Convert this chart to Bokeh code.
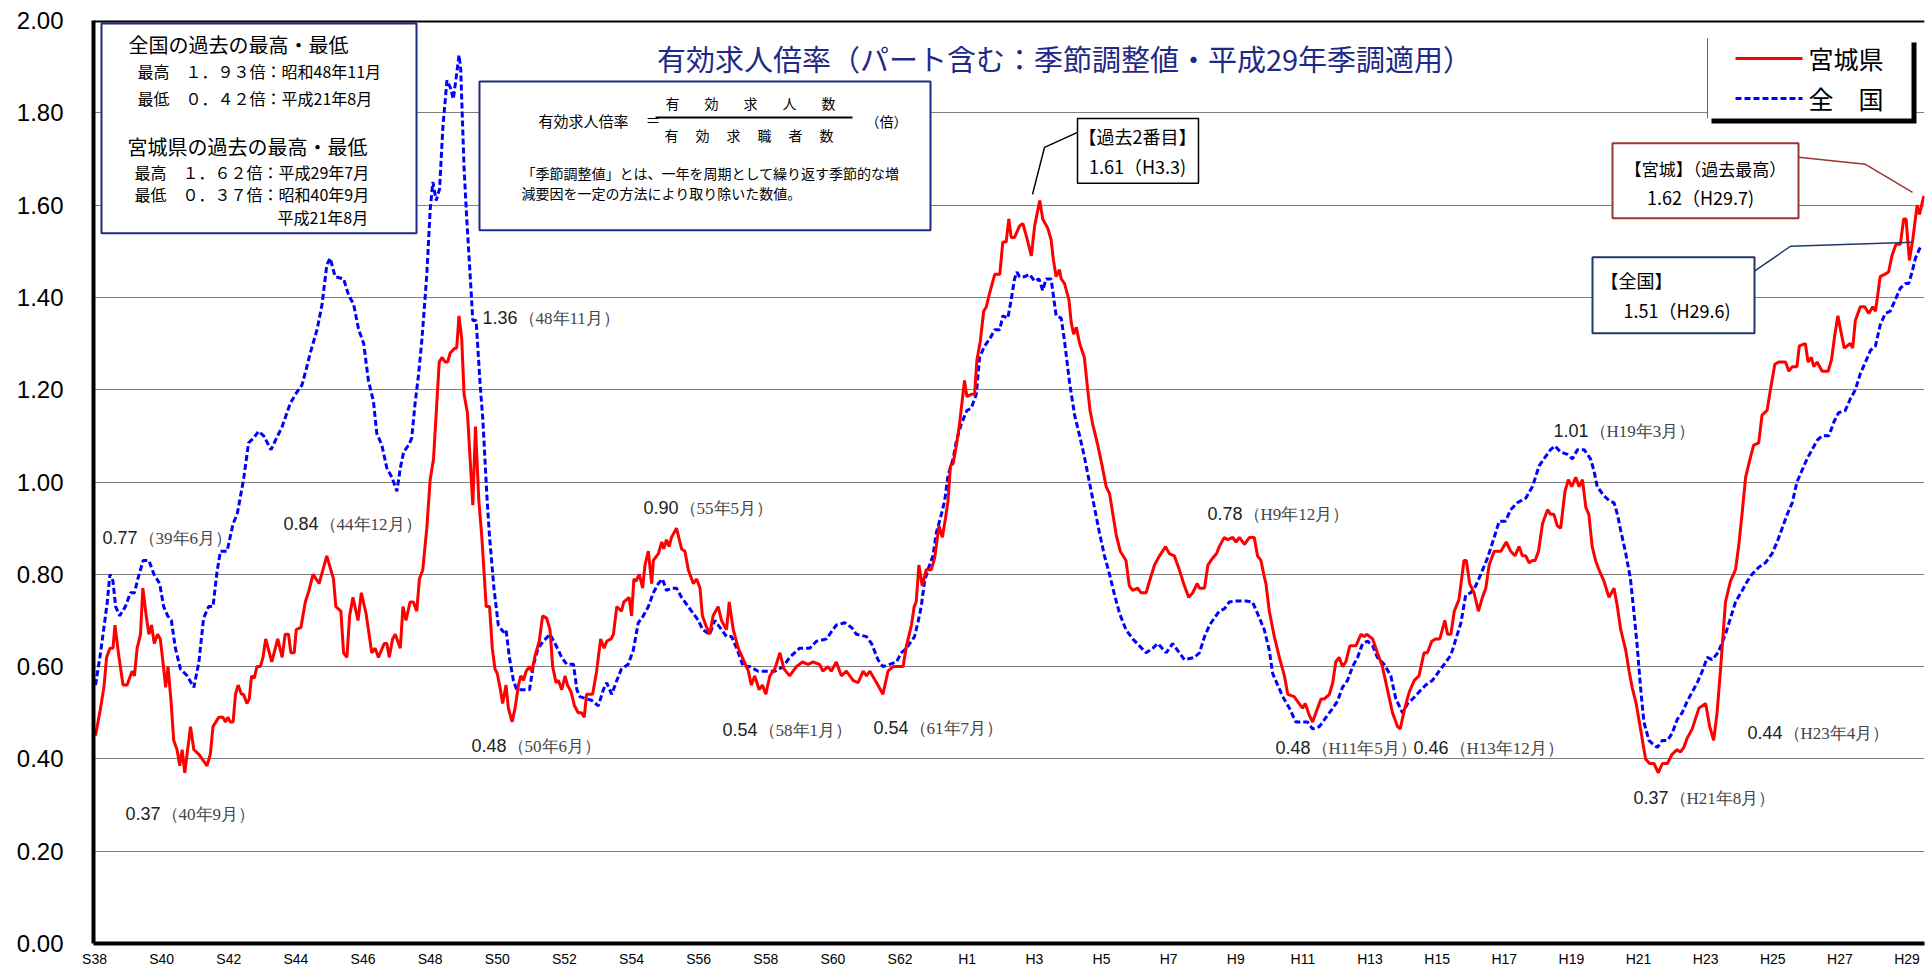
from bokeh.plotting import figure
from bokeh.models import Range1d, FixedTicker, PrintfTickFormatter, Span
from bokeh.core.properties import value
from bokeh.embed import file_html
from bokeh.resources import INLINE

# ---------------- data (decimal year, ratio) ----------------
miyagi_t = [1963.03,1963.18,1963.28,1963.36,1963.46,1963.55,1963.61,1963.72,1963.85,1963.97,
 1964.12,1964.19,1964.27,1964.37,1964.44,1964.54,1964.62,1964.70,1964.78,1964.88,1964.96,
 1965.04,1965.12,1965.19,1965.28,1965.36,1965.46,1965.54,1965.61,1965.69,1965.86,1965.96,
 1966.11,1966.35,1966.45,1966.53,1966.70,1966.83,1966.90,1966.97,1967.05,1967.13,1967.20,
 1967.28,1967.38,1967.44,1967.54,1967.61,1967.68,1967.76,1967.84,1967.94,1968.02,1968.10,
 1968.28,1968.46,1968.59,1968.68,1968.78,1968.85,1968.95,1969.01,1969.15,1969.28,1969.39,
 1969.51,1969.69,1969.92,1970.12,1970.19,1970.34,1970.42,1970.52,1970.60,1970.70,1970.85,
 1970.95,1971.09,1971.26,1971.36,1971.46,1971.63,1971.71,1971.78,1971.88,1971.96,1972.11,
 1972.19,1972.28,1972.40,1972.50,1972.60,1972.68,1972.78,1972.90,1973.00,1973.10,1973.27,
 1973.35,1973.45,1973.52,1973.60,1973.74,1973.79,1973.86,1973.94,1974.01,1974.11,1974.19,
 1974.27,1974.35,1974.45,1974.54,1974.67,1974.77,1974.85,1974.93,1975.00,1975.08,1975.16,
 1975.26,1975.33,1975.44,1975.53,1975.63,1975.70,1975.78,1975.86,1975.96,1976.03,1976.13,
 1976.25,1976.35,1976.47,1976.57,1976.65,1976.75,1976.82,1976.92,1977.02,1977.09,1977.20,
 1977.30,1977.41,1977.51,1977.59,1977.66,1977.84,1977.96,1978.01,1978.08,1978.18,1978.26,
 1978.39,1978.46,1978.56,1978.70,1978.77,1978.93,1979.00,1979.07,1979.13,1979.23,1979.33,
 1979.40,1979.50,1979.60,1979.65,1979.80,1979.90,1979.96,1980.04,1980.12,1980.19,1980.34,
 1980.49,1980.59,1980.69,1980.84,1980.94,1981.04,1981.11,1981.21,1981.33,1981.43,1981.58,
 1981.68,1981.83,1981.91,1982.03,1982.18,1982.33,1982.48,1982.57,1982.67,1982.80,1982.90,
 1983.00,1983.12,1983.27,1983.42,1983.54,1983.71,1983.91,1984.09,1984.26,1984.41,1984.60,
 1984.70,1984.85,1984.95,1985.10,1985.25,1985.40,1985.60,1985.75,1985.90,1986.00,1986.10,
 1986.30,1986.49,1986.64,1986.79,1986.94,1987.09,1987.19,1987.34,1987.42,1987.48,1987.56,
 1987.66,1987.78,1987.93,1988.03,1988.16,1988.26,1988.35,1988.43,1988.50,1988.58,1988.68,
 1988.77,1988.92,1988.99,1989.12,1989.22,1989.29,1989.39,1989.49,1989.57,1989.67,1989.82,
 1989.97,1990.06,1990.16,1990.24,1990.31,1990.41,1990.56,1990.66,1990.79,1990.91,1991.01,
 1991.16,1991.25,1991.40,1991.50,1991.57,1991.65,1991.75,1991.80,1991.90,1992.03,1992.10,
 1992.17,1992.25,1992.35,1992.49,1992.59,1992.66,1992.74,1992.89,1993.02,1993.14,1993.24,
 1993.34,1993.44,1993.56,1993.73,1993.83,1993.93,1994.08,1994.18,1994.33,1994.43,1994.58,
 1994.73,1994.91,1995.02,1995.17,1995.32,1995.47,1995.60,1995.72,1995.85,1995.92,1996.07,
 1996.17,1996.31,1996.43,1996.51,1996.66,1996.76,1996.91,1997.01,1997.11,1997.26,1997.41,
 1997.55,1997.65,1997.75,1997.85,1997.90,1998.00,1998.15,1998.30,1998.45,1998.55,1998.74,
 1998.89,1998.99,1999.07,1999.19,1999.29,1999.44,1999.54,1999.64,1999.79,1999.89,1999.98,
 2000.08,2000.18,2000.28,2000.40,2000.58,2000.73,2000.83,2000.90,2001.08,2001.22,2001.37,
 2001.52,2001.67,2001.82,2001.90,2002.02,2002.17,2002.32,2002.46,2002.61,2002.71,2002.84,
 2002.96,2003.08,2003.23,2003.31,2003.41,2003.51,2003.65,2003.73,2003.80,2003.87,2003.97,
 2004.10,2004.23,2004.35,2004.45,2004.55,2004.70,2004.90,2005.06,2005.19,2005.32,2005.44,
 2005.54,2005.64,2005.74,2005.84,2005.92,2006.02,2006.14,2006.29,2006.38,2006.48,2006.58,
 2006.68,2006.81,2006.91,2007.01,2007.13,2007.23,2007.33,2007.43,2007.52,2007.62,2007.72,
 2007.82,2007.97,2008.12,2008.27,2008.37,2008.47,2008.62,2008.72,2008.81,2008.93,2009.06,
 2009.21,2009.33,2009.46,2009.59,2009.71,2009.86,2010.00,2010.15,2010.25,2010.35,2010.45,
 2010.60,2010.80,2011.00,2011.12,2011.24,2011.34,2011.44,2011.59,2011.74,2011.89,2011.99,
 2012.09,2012.19,2012.34,2012.43,2012.58,2012.68,2012.83,2012.93,2013.06,2013.18,2013.38,
 2013.48,2013.58,2013.72,2013.79,2013.97,2014.05,2014.15,2014.22,2014.32,2014.47,2014.65,
 2014.75,2014.84,2014.94,2015.06,2015.13,2015.31,2015.38,2015.46,2015.61,2015.74,2015.86,
 2015.98,2016.06,2016.20,2016.33,2016.45,2016.55,2016.67,2016.80,2016.90,2016.97,2017.07,
 2017.17,2017.30,2017.37,2017.50]
miyagi_v = [0.45,0.51,0.555,0.62,0.64,0.64,0.69,0.625,0.56,0.56,
 0.59,0.58,0.64,0.67,0.77,0.71,0.67,0.69,0.65,0.67,0.66,
 0.61,0.555,0.60,0.525,0.44,0.42,0.385,0.42,0.37,0.47,0.42,
 0.41,0.385,0.41,0.47,0.49,0.49,0.48,0.49,0.48,0.48,0.54,
 0.56,0.54,0.54,0.52,0.53,0.58,0.575,0.60,0.60,0.62,0.66,
 0.61,0.66,0.62,0.67,0.67,0.63,0.63,0.68,0.685,0.74,0.765,
 0.80,0.78,0.84,0.79,0.73,0.72,0.63,0.62,0.71,0.75,0.70,
 0.76,0.715,0.63,0.64,0.62,0.65,0.65,0.62,0.66,0.67,0.64,
 0.73,0.70,0.74,0.74,0.72,0.79,0.81,0.90,1.005,1.05,1.26,
 1.27,1.26,1.26,1.28,1.29,1.29,1.36,1.31,1.19,1.15,1.05,
 0.95,1.12,0.96,0.88,0.73,0.73,0.64,0.595,0.585,0.555,0.52,
 0.56,0.51,0.48,0.51,0.56,0.58,0.57,0.59,0.60,0.59,0.625,
 0.655,0.71,0.705,0.68,0.60,0.565,0.57,0.55,0.58,0.56,0.545,
 0.515,0.50,0.50,0.49,0.54,0.54,0.59,0.62,0.66,0.64,0.655,
 0.66,0.67,0.73,0.72,0.74,0.75,0.71,0.79,0.785,0.80,0.77,
 0.82,0.85,0.78,0.83,0.845,0.87,0.855,0.875,0.86,0.88,0.90,
 0.855,0.85,0.81,0.78,0.79,0.77,0.71,0.69,0.67,0.71,0.73,
 0.70,0.68,0.74,0.68,0.64,0.615,0.59,0.56,0.58,0.55,0.56,
 0.54,0.58,0.595,0.63,0.595,0.58,0.60,0.61,0.605,0.61,0.605,
 0.59,0.60,0.59,0.61,0.58,0.59,0.57,0.565,0.59,0.58,0.59,
 0.565,0.54,0.59,0.60,0.60,0.60,0.645,0.69,0.73,0.74,0.82,
 0.775,0.81,0.81,0.835,0.905,0.88,0.92,0.96,1.035,1.04,1.08,
 1.125,1.22,1.185,1.19,1.19,1.265,1.305,1.37,1.38,1.41,1.45,
 1.45,1.52,1.52,1.57,1.53,1.53,1.555,1.56,1.525,1.49,1.555,
 1.61,1.57,1.55,1.525,1.48,1.445,1.46,1.44,1.43,1.395,1.345,
 1.32,1.335,1.30,1.27,1.20,1.155,1.125,1.08,1.035,0.99,0.975,
 0.93,0.885,0.85,0.83,0.775,0.765,0.77,0.76,0.76,0.785,0.82,
 0.84,0.86,0.845,0.84,0.81,0.775,0.75,0.76,0.78,0.77,0.77,
 0.82,0.835,0.845,0.86,0.88,0.875,0.88,0.87,0.88,0.865,0.88,
 0.88,0.84,0.83,0.795,0.78,0.72,0.665,0.62,0.58,0.54,0.535,
 0.52,0.51,0.52,0.495,0.48,0.51,0.53,0.53,0.54,0.565,0.61,
 0.62,0.60,0.61,0.645,0.645,0.67,0.665,0.67,0.66,0.63,0.60,
 0.55,0.50,0.47,0.465,0.505,0.545,0.57,0.58,0.63,0.63,0.655,
 0.66,0.66,0.70,0.67,0.67,0.72,0.745,0.79,0.83,0.83,0.78,
 0.76,0.72,0.75,0.77,0.82,0.85,0.85,0.87,0.85,0.84,0.86,
 0.84,0.84,0.825,0.83,0.83,0.85,0.91,0.94,0.93,0.93,0.905,
 0.90,0.98,1.005,0.99,1.01,0.99,1.005,0.945,0.93,0.86,0.83,
 0.81,0.785,0.75,0.77,0.73,0.68,0.635,0.59,0.555,0.52,0.465,
 0.40,0.39,0.39,0.37,0.39,0.39,0.41,0.42,0.415,0.425,0.445,
 0.465,0.51,0.52,0.47,0.44,0.50,0.59,0.74,0.785,0.81,0.865,
 0.935,1.01,1.055,1.08,1.085,1.145,1.155,1.20,1.255,1.26,1.26,
 1.24,1.25,1.25,1.295,1.30,1.26,1.27,1.25,1.26,1.24,1.24,
 1.265,1.315,1.36,1.315,1.29,1.30,1.29,1.35,1.38,1.38,1.365,
 1.38,1.37,1.445,1.45,1.455,1.49,1.515,1.515,1.57,1.57,1.48,
 1.525,1.60,1.58,1.62]

zenkoku_t = [1963.03,1963.16,1963.30,1963.38,1963.46,1963.55,1963.63,1963.75,1963.92,1964.07,
 1964.19,1964.29,1964.45,1964.62,1964.77,1964.94,1965.06,1965.18,1965.29,1965.41,1965.56,
 1965.76,1965.96,1966.11,1966.25,1966.40,1966.53,1966.65,1966.75,1966.95,1967.13,1967.25,
 1967.44,1967.59,1967.74,1967.89,1968.04,1968.26,1968.39,1968.59,1968.83,1969.03,1969.18,
 1969.31,1969.43,1969.63,1969.78,1969.92,1970.02,1970.17,1970.42,1970.57,1970.72,1970.87,
 1971.02,1971.16,1971.31,1971.41,1971.56,1971.71,1971.86,1972.01,1972.11,1972.21,1972.36,
 1972.45,1972.55,1972.65,1972.75,1972.85,1972.90,1973.00,1973.08,1973.18,1973.28,1973.38,
 1973.50,1973.60,1973.69,1973.79,1973.86,1973.91,1974.01,1974.09,1974.19,1974.27,1974.37,
 1974.49,1974.57,1974.69,1974.77,1974.90,1975.03,1975.18,1975.26,1975.36,1975.48,1975.58,
 1975.96,1976.08,1976.22,1976.37,1976.57,1976.72,1976.92,1977.07,1977.27,1977.37,1977.46,
 1977.66,1977.81,1978.01,1978.16,1978.26,1978.41,1978.56,1978.70,1978.90,1979.05,1979.20,
 1979.35,1979.50,1979.65,1979.80,1979.92,1980.04,1980.19,1980.34,1980.49,1980.64,1980.84,
 1980.99,1981.12,1981.33,1981.48,1981.63,1981.83,1981.98,1982.13,1982.33,1982.52,1982.77,
 1983.02,1983.27,1983.52,1983.71,1984.01,1984.31,1984.51,1984.81,1984.95,1985.10,1985.35,
 1985.55,1985.70,1986.00,1986.15,1986.34,1986.49,1986.89,1987.04,1987.19,1987.43,1987.53,
 1987.63,1987.73,1987.83,1987.98,1988.08,1988.23,1988.33,1988.43,1988.58,1988.68,1988.82,
 1988.99,1989.12,1989.27,1989.37,1989.52,1989.67,1989.82,1989.97,1990.06,1990.21,1990.31,
 1990.41,1990.48,1990.56,1990.71,1990.86,1991.01,1991.14,1991.25,1991.35,1991.50,1991.65,
 1991.80,1991.90,1992.05,1992.20,1992.35,1992.49,1992.64,1992.79,1992.94,1993.09,1993.24,
 1993.39,1993.54,1993.73,1993.93,1994.13,1994.33,1994.53,1994.68,1994.93,1995.12,1995.32,
 1995.47,1995.77,1995.92,1996.07,1996.22,1996.36,1996.51,1996.66,1996.81,1996.96,1997.31,
 1997.50,1997.65,1997.85,1998.00,1998.10,1998.25,1998.40,1998.60,1998.79,1998.99,1999.14,
 1999.29,1999.49,1999.69,1999.89,2000.03,2000.18,2000.33,2000.48,2000.63,2000.78,2000.93,
 2001.08,2001.22,2001.42,2001.62,2001.77,2001.97,2002.12,2002.27,2002.46,2002.66,2002.86,
 2003.06,2003.21,2003.41,2003.56,2003.71,2003.85,2004.00,2004.15,2004.30,2004.50,2004.70,
 2004.85,2005.04,2005.19,2005.39,2005.64,2005.84,2006.04,2006.23,2006.38,2006.51,2006.68,
 2006.88,2007.03,2007.18,2007.38,2007.57,2007.67,2007.77,2007.97,2008.12,2008.27,2008.37,
 2008.47,2008.62,2008.76,2008.86,2008.96,2009.06,2009.16,2009.31,2009.46,2009.56,2009.71,
 2009.86,2010.00,2010.15,2010.30,2010.45,2010.60,2010.75,2010.90,2011.05,2011.19,2011.37,
 2011.59,2011.74,2011.89,2012.09,2012.24,2012.38,2012.58,2012.78,2012.98,2013.13,2013.28,
 2013.43,2013.58,2013.72,2013.87,2014.02,2014.17,2014.32,2014.47,2014.67,2014.82,2014.96,
 2015.16,2015.31,2015.46,2015.61,2015.76,2015.91,2016.06,2016.20,2016.35,2016.50,2016.65,
 2016.80,2016.95,2017.05,2017.15,2017.25,2017.37,2017.42]
zenkoku_v = [0.56,0.62,0.695,0.74,0.80,0.785,0.73,0.71,0.73,0.76,
 0.76,0.79,0.83,0.83,0.80,0.78,0.73,0.71,0.70,0.64,0.595,
 0.58,0.555,0.61,0.705,0.73,0.73,0.805,0.85,0.85,0.91,0.93,
 1.005,1.085,1.095,1.11,1.10,1.07,1.09,1.12,1.17,1.195,1.21,
 1.245,1.28,1.33,1.385,1.47,1.485,1.445,1.44,1.405,1.385,1.33,
 1.30,1.22,1.175,1.105,1.08,1.03,1.01,0.98,1.03,1.065,1.08,
 1.095,1.17,1.23,1.305,1.40,1.45,1.59,1.65,1.61,1.635,1.77,
 1.87,1.855,1.83,1.885,1.925,1.895,1.68,1.57,1.45,1.35,1.35,
 1.21,1.135,0.97,0.88,0.77,0.69,0.675,0.68,0.62,0.57,0.55,
 0.55,0.605,0.64,0.655,0.67,0.65,0.62,0.605,0.605,0.55,0.535,
 0.53,0.527,0.515,0.55,0.565,0.54,0.57,0.595,0.605,0.635,0.695,
 0.71,0.73,0.76,0.78,0.79,0.765,0.77,0.77,0.75,0.735,0.715,
 0.70,0.68,0.67,0.70,0.685,0.665,0.665,0.64,0.60,0.60,0.59,
 0.59,0.59,0.60,0.62,0.64,0.64,0.655,0.66,0.675,0.69,0.695,
 0.685,0.67,0.665,0.65,0.615,0.60,0.61,0.63,0.64,0.665,0.695,
 0.73,0.785,0.81,0.84,0.89,0.93,0.96,1.015,1.05,1.09,1.125,
 1.155,1.16,1.19,1.27,1.295,1.31,1.33,1.33,1.36,1.355,1.395,
 1.44,1.455,1.445,1.445,1.45,1.435,1.44,1.415,1.44,1.44,1.36,
 1.355,1.305,1.215,1.145,1.10,1.055,1.00,0.945,0.89,0.84,0.80,
 0.755,0.715,0.68,0.66,0.645,0.63,0.64,0.65,0.63,0.65,0.63,
 0.615,0.62,0.63,0.665,0.69,0.705,0.72,0.725,0.74,0.742,0.742,
 0.74,0.715,0.68,0.635,0.585,0.56,0.535,0.51,0.48,0.48,0.48,
 0.465,0.47,0.49,0.51,0.525,0.555,0.57,0.60,0.62,0.65,0.655,
 0.645,0.62,0.605,0.58,0.53,0.50,0.52,0.53,0.545,0.56,0.57,
 0.59,0.605,0.625,0.66,0.695,0.755,0.76,0.775,0.80,0.835,0.88,
 0.915,0.915,0.94,0.955,0.965,0.99,1.035,1.055,1.07,1.078,1.065,
 1.06,1.05,1.07,1.07,1.05,1.025,0.99,0.97,0.96,0.955,0.93,
 0.895,0.845,0.79,0.72,0.645,0.555,0.48,0.44,0.43,0.425,0.44,
 0.44,0.455,0.485,0.50,0.525,0.545,0.565,0.59,0.62,0.615,0.63,
 0.67,0.705,0.74,0.765,0.785,0.80,0.815,0.825,0.845,0.87,0.90,
 0.93,0.955,1.00,1.025,1.05,1.07,1.09,1.10,1.10,1.13,1.15,
 1.155,1.18,1.20,1.235,1.26,1.285,1.295,1.34,1.365,1.37,1.395,
 1.42,1.43,1.43,1.455,1.485,1.505,1.51]

x_tick_years = [1963,1965,1967,1969,1971,1973,1975,1977,1979,1981,1983,1985,1987,
                1989,1991,1993,1995,1997,1999,2001,2003,2005,2007,2009,2011,2013,2015,2017]
x_tick_labels = ["S38","S40","S42","S44","S46","S48","S50","S52","S54","S56","S58","S60","S62",
                 "H1","H3","H5","H7","H9","H11","H13","H15","H17","H19","H21","H23","H25","H27","H29"]
y_ticks = [0.0,0.2,0.4,0.6,0.8,1.0,1.2,1.4,1.6,1.8,2.0]

anno_values = ["0.77","0.37","0.84","1.36","0.48","0.90","0.54","0.54","0.78","0.48","0.46","1.01","0.37","0.44"]
anno_dates = ["（39年6月）","（40年9月）","（44年12月）","（48年11月）","（50年6月）","（55年5月）","（58年1月）",
              "（61年7月）","（H9年12月）","（H11年5月）","（H13年12月）","（H19年3月）","（H21年8月）","（H23年4月）"]

title_text = "有効求人倍率（パート含む：季節調整値・平成29年季調適用）"

# ---------------- layout helpers (page pixel -> data coords) ----------------
W, H = 1928, 969
XS, XE = 1962.97, 2017.52
FL, FR, FT, FB = 93, 1924, 20, 944
def ax(px):
    return XS + (px - FL) * (XE - XS) / (FR - FL)
def ay(py):
    return (FB - py) * 2.0 / (FB - FT)

JP = value("Noto Sans CJK JP")
SANS = value("Liberation Sans")
SERIF = value("Liberation Serif")
NAVY = "#1F2A86"

p = figure(width=W, height=H, output_backend="svg", toolbar_location=None,
           x_range=Range1d(XS, XE), y_range=Range1d(0, 2.0),
           min_border_left=FL, min_border_right=W - FR, min_border_top=FT,
           min_border_bottom=H - FB)
p.outline_line_color = None
p.background_fill_color = "white"
p.border_fill_color = "white"

p.xgrid.visible = False
p.ygrid.ticker = FixedTicker(ticks=y_ticks)
p.ygrid.grid_line_color = "#808080"
p.ygrid.grid_line_width = 1

p.yaxis.ticker = FixedTicker(ticks=y_ticks)
p.yaxis.formatter = PrintfTickFormatter(format="%.2f")
p.yaxis.major_label_text_font = "Liberation Sans"
p.yaxis.major_label_text_font_size = "24px"
p.yaxis.major_label_text_color = "black"
p.yaxis.major_label_standoff = 30
p.yaxis.major_tick_line_color = None
p.yaxis.major_tick_out = 0
p.yaxis.major_tick_in = 0
p.yaxis.minor_tick_line_color = None
p.yaxis.minor_tick_out = 0
p.yaxis.axis_line_width = 4
p.yaxis.axis_line_color = "black"

p.xaxis.ticker = FixedTicker(ticks=x_tick_years)
p.xaxis.major_label_overrides = {y: l for y, l in zip(x_tick_years, x_tick_labels)}
p.xaxis.major_label_text_font = "Liberation Sans"
p.xaxis.major_label_text_font_size = "14px"
p.xaxis.major_label_text_color = "black"
p.xaxis.major_label_standoff = 7
p.xaxis.major_tick_line_color = None
p.xaxis.major_tick_out = 0
p.xaxis.major_tick_in = 0
p.xaxis.minor_tick_line_color = None
p.xaxis.minor_tick_out = 0
p.xaxis.axis_line_width = 4
p.xaxis.axis_line_color = "black"

p.add_layout(Span(location=2.0, dimension="width", line_color="black", line_width=4))

# ---------------- series ----------------
p.line(zenkoku_t, zenkoku_v, line_color="#0000FF", line_width=3, line_dash="6 3")
p.line(miyagi_t, miyagi_v, line_color="#FF0000", line_width=3)

# ---------------- boxes ----------------
def box(l, t, r, b, color, lw=2, fill="white"):
    p.quad(left=[ax(l)], right=[ax(r)], top=[ay(t)], bottom=[ay(b)],
           fill_color=fill, line_color=color, line_width=lw)

def txt(x, y, s, size, font=JP, color="black", align="left"):
    p.text(x=[ax(x)], y=[ay(y)], text=[s], text_font=font, text_font_size=size,
           text_color=color, text_align=align, text_baseline="middle")

def seg(pts, color, lw=1.5):
    p.line([ax(a) for a, _ in pts], [ay(b) for _, b in pts], line_color=color, line_width=lw)

# top-left records box
box(101, 23, 416, 233, NAVY)
txt(128, 44, "全国の過去の最高・最低", "20px")
txt(137, 71, "最高　１．９３倍：昭和48年11月", "16px")
txt(137, 98, "最低　０．４２倍：平成21年8月", "16px")
txt(127, 146, "宮城県の過去の最高・最低", "20px")
txt(134, 172, "最高　１．６２倍：平成29年7月", "16px")
txt(134, 194, "最低　０．３７倍：昭和40年9月", "16px")
txt(277, 217, "平成21年8月", "16px")

# formula box
box(479, 81, 930, 230, NAVY)
txt(538, 120, "有効求人倍率", "15px")
txt(645, 119, "＝", "15px")
seg([(655, 117), (852, 117)], "black", 2)
for i, ch in enumerate("有効求人数"):
    txt(672 + i * 39, 103, ch, "14px", align="center")
for i, ch in enumerate("有効求職者数"):
    txt(671 + i * 31, 135, ch, "14px", align="center")
txt(886, 121, "（倍）", "14px", align="center")
txt(521, 173, "「季節調整値」とは、一年を周期として繰り返す季節的な増", "14px")
txt(521, 193, "減要因を一定の方法により取り除いた数値。", "14px")

# title
txt(1064, 58, title_text, "29px", color=NAVY, align="center")

# legend with shadow
box(1711, 42, 1916, 123, "black", lw=0, fill="black")
p.quad(left=[ax(1707)], right=[ax(1911)], top=[ay(38)], bottom=[ay(118)],
       fill_color="white", line_color=None)
seg([(1707, 38), (1707, 118)], "#666666", 1)
p.line([ax(1735), ax(1802)], [ay(58), ay(58)], line_color="#FF0000", line_width=3)
p.line([ax(1735), ax(1802)], [ay(98), ay(98)], line_color="#0000FF", line_width=3, line_dash="6 3")
txt(1808, 58, "宮城県", "25px")
txt(1808, 98, "全　国", "25px")

# callout: second highest
seg([(1032, 194), (1044, 147), (1077, 132)], "black", 1.5)
box(1077, 118, 1198, 183, "black", lw=1.5)
txt(1137, 136, "【過去2番目】", "18px", align="center")
txt(1137, 166, "1.61（H3.3)", "18px", align="center")

# callout: Miyagi record
seg([(1798, 157), (1865, 164), (1912, 192)], "#953735", 1.5)
box(1612, 143, 1798, 218, "#953735")
txt(1705, 168, "【宮城】（過去最高）", "17px", align="center")
txt(1700, 197, "1.62（H29.7)", "18px", align="center")

# callout: national
seg([(1754, 271), (1790, 246), (1912, 242)], "#1F3864", 1.5)
box(1592, 257, 1754, 333, "#1F3864")
txt(1600, 280, "【全国】", "18px")
txt(1623, 310, "1.51（H29.6)", "18px")

# value annotations
anno_pos = [(102, 538), (125, 814), (283, 524), (482, 317), (471, 746), (643, 508), (722, 730),
            (873, 728), (1207, 514), (1275, 748), (1413, 748), (1553, 430), (1633, 798), (1747, 733)]
for (x, y), v, d in zip(anno_pos, anno_values, anno_dates):
    txt(x, y, v, "18px", font=SANS, color="#222222")
    txt(x + 36, y + 1, d, "17px", font=SERIF, color="#444444")

open("out.html", "w").write(file_html(p, INLINE))
